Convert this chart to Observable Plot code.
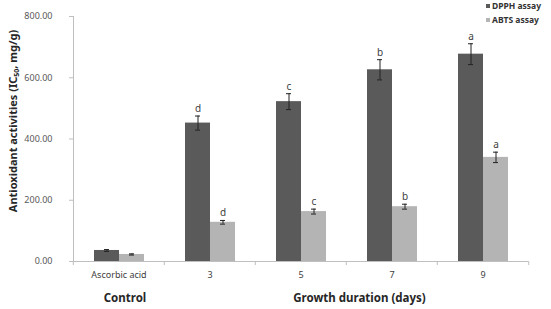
<!DOCTYPE html>
<html>
<head>
<meta charset="utf-8">
<script src="https://cdn.jsdelivr.net/npm/d3@7"></script>
<script src="https://cdn.jsdelivr.net/npm/@observablehq/plot@0.6"></script>
<style>
  html, body { margin: 0; padding: 0; background: #fff; overflow: hidden; }
  #chart svg { overflow: hidden; }
</style>
</head>
<body>
<div id="chart"></div>
<script>
// Antioxidant activity (IC50) of ascorbic acid control and sprouts by growth day
const categories = ["Ascorbic acid", "3", "5", "7", "9"];
const assays = ["DPPH assay", "ABTS assay"];
const dpphValues = [36, 452, 522, 626, 677];
const dpphErrors = [3, 23, 26, 33, 34];
const dpphLetters = ["", "d", "c", "b", "a"];
const abtsValues = [23, 128, 163, 179, 340];
const abtsErrors = [2, 6, 8, 8, 17];
const abtsLetters = ["", "d", "c", "b", "a"];
const yTicks = [0, 200, 400, 600, 800];
const controlLabel = [{cat: "Ascorbic acid", text: "Control"}];
const growthLabel = [{cat: "7", text: "Growth duration (days)"}];

const rows = categories.flatMap((cat, i) => [
  {cat, assay: assays[0], value: dpphValues[i], err: dpphErrors[i], letter: dpphLetters[i]},
  {cat, assay: assays[1], value: abtsValues[i], err: abtsErrors[i], letter: abtsLetters[i]}
]);

const W = 551, H = 309, ML = 72, MR = 22, MT = 16, MB = 48;
const band = (W - ML - MR) / categories.length;
const font = "'Noto Sans', 'DejaVu Sans', sans-serif";
const axisGray = "#bfbfbf";

const plot = Plot.plot({
  width: W, height: H,
  marginLeft: ML, marginRight: MR, marginTop: MT, marginBottom: MB,
  style: {fontFamily: font, fontSize: "9px", color: "#595959", background: "#fff"},
  fx: {domain: categories, padding: 0, axis: null, label: null},
  x: {domain: assays, paddingInner: 0, paddingOuter: 0.757, axis: null},
  y: {domain: [0, 800], axis: null},
  color: {domain: assays, range: ["#5a5a5a", "#b4b4b4"]},
  marks: [
    Plot.axisY({ticks: yTicks, tickFormat: d3.format(".2f"), tickSize: 4, tickPadding: 17,
      stroke: axisGray, fill: "#595959", label: null, fontSize: 9}),
    Plot.frame({anchor: "left", stroke: axisGray, facetAnchor: "left"}),
    Plot.ruleY([0], {stroke: axisGray}),
    Plot.barY(rows, {fx: "cat", x: "assay", y: "value", fill: "assay"}),
    Plot.ruleX(rows, {fx: "cat", x: "assay", y1: d => d.value - d.err, y2: d => d.value + d.err, stroke: "#222"}),
    Plot.tickY(rows, {fx: "cat", x: "assay", y: d => d.value + d.err, insetLeft: 10, insetRight: 10, stroke: "#222"}),
    Plot.tickY(rows, {fx: "cat", x: "assay", y: d => d.value - d.err, insetLeft: 10, insetRight: 10, stroke: "#222"}),
    Plot.text(rows.filter(d => d.letter), {fx: "cat", x: "assay", y: d => d.value + d.err, text: "letter",
      dy: -4, lineAnchor: "bottom", fontSize: 10, fill: "#404040"}),
    Plot.axisFx({anchor: "bottom", tickSize: 0, tickPadding: 10, label: null, fontSize: 9, fill: "#404040"}),
    Plot.axisFx({anchor: "bottom", tickSize: 4, text: null, label: null, dx: -band / 2, stroke: axisGray}),
    Plot.axisFx({anchor: "bottom", ticks: [categories[categories.length - 1]], tickSize: 4, text: null, label: null,
      dx: band / 2, stroke: axisGray}),
    Plot.text(controlLabel, {fx: "cat", text: "text", frameAnchor: "bottom", textAnchor: "middle",
      dx: 6, dy: 40, fontWeight: "bold", fontSize: 11.5, fill: "#262626"}),
    Plot.text(growthLabel, {fx: "cat", text: "text", frameAnchor: "bottom-left", textAnchor: "middle",
      dx: 13, dy: 40, fontWeight: "bold", fontSize: 11.5, fill: "#262626"})
  ]
});

const svg = d3.select(plot);

// Rotated y-axis title with IC50 subscript
const yTitle = svg.append("text")
  .attr("transform", "translate(14,121) rotate(-90)")
  .attr("text-anchor", "middle")
  .attr("dominant-baseline", "middle")
  .attr("font-family", font)
  .attr("font-size", 11)
  .attr("font-weight", "bold")
  .attr("fill", "#262626");
yTitle.append("tspan").text("Antioxidant activities (IC");
yTitle.append("tspan").attr("font-size", 7).attr("dy", 3).text("50");
yTitle.append("tspan").attr("dy", -3).text(", mg/g)");

// Legend in the top-right corner
const color = plot.scale("color");
const legend = svg.append("g")
  .attr("font-family", font).attr("font-size", 8.5).attr("font-weight", "bold")
  .attr("text-anchor", "start");
assays.forEach((a, i) => {
  const g = legend.append("g").attr("transform", `translate(486,${6 + i * 14})`);
  g.append("rect").attr("x", 0).attr("y", -2).attr("width", 4).attr("height", 4)
    .attr("fill", color.range[i]);
  g.append("text").attr("x", 6).attr("dy", "0.35em").attr("fill", "#333").text(a);
});

document.getElementById("chart").append(plot);
</script>
</body>
</html>
